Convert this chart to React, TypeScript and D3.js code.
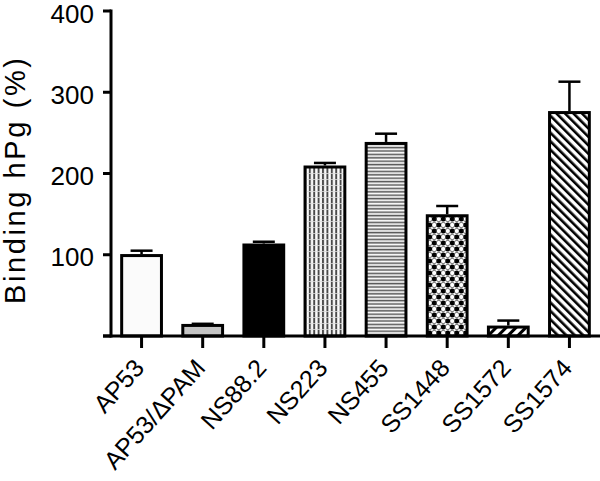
import React from "react";
import * as d3 from "d3";

const categories = ["AP53", "AP53/ΔPAM", "NS88.2", "NS223", "NS455", "SS1448", "SS1572", "SS1574"];
const values = [99, 13, 112, 208, 237, 148, 11, 275];
const errors = [6, 2, 4, 5, 12, 12, 8, 38];
const fills = ["#fbfbfb", "#c4c4c4", "#000000", "url(#pVert)", "url(#pHoriz)", "url(#pDots)", "url(#pFwd)", "url(#pBack)"];
const yTicks = [100, 200, 300, 400];

const W = 600;
const H = 481;

export default function App() {
  const x = d3.scaleBand<string>().domain(categories).range([111, 600]).paddingInner(0.3).paddingOuter(0.15);
  const y = d3.scaleLinear().domain([0, 400]).range([336, 11]);
  const bw = x.bandwidth();
  const font = "Arial, 'Liberation Sans', Helvetica, sans-serif";
  const y0 = y(0);

  return (
    <svg width={W} height={H} style={{ position: "absolute", left: 0, top: 0, background: "#fff" }} fontFamily={font}>
      <defs>
        <pattern id="pVert" width="4.4" height="6" patternUnits="userSpaceOnUse">
          <rect width="4.4" height="6" fill="#fff" />
          <rect x="0.8" width="2" height="6" fill="#4a4a4a" />
          <rect y="5" width="4.4" height="0.8" fill="#ddd" />
        </pattern>
        <pattern id="pHoriz" width="6" height="3.4" patternUnits="userSpaceOnUse">
          <rect width="6" height="3.4" fill="#fff" />
          <rect y="0.6" width="6" height="1.6" fill="#5a5a5a" />
        </pattern>
        <pattern id="pDots" width="9" height="12" patternUnits="userSpaceOnUse">
          <rect width="9" height="12" fill="#fff" />
          <circle cx="2.25" cy="3" r="2.5" fill="#000" />
          <circle cx="6.75" cy="9" r="2.5" fill="#000" />
          <circle cx="6.75" cy="3" r="2.6" fill="none" stroke="#444" strokeWidth="0.8" />
          <circle cx="2.25" cy="9" r="2.6" fill="none" stroke="#444" strokeWidth="0.8" />
        </pattern>
        <pattern id="pFwd" width="7" height="7" patternUnits="userSpaceOnUse" patternTransform="rotate(45)">
          <rect width="7" height="7" fill="#fff" />
          <rect x="0" width="3" height="7" fill="#000" />
        </pattern>
        <pattern id="pBack" width="6" height="6" patternUnits="userSpaceOnUse" patternTransform="rotate(-45)">
          <rect width="6" height="6" fill="#fff" />
          <rect x="0" width="2.6" height="6" fill="#000" />
        </pattern>
      </defs>

      {/* bars */}
      {categories.map((c, i) => {
        const bx = x(c)!;
        const top = y(values[i]);
        return (
          <rect key={c} x={bx + 1.5} y={top} width={bw - 3} height={y0 - top} fill={fills[i]} stroke="#000" strokeWidth={3} />
        );
      })}

      {/* error bars */}
      {categories.map((c, i) => {
        const cx = x(c)! + bw / 2;
        const top = y(values[i]);
        const et = y(values[i] + errors[i]);
        return (
          <g key={"e" + c} stroke="#000" strokeWidth={2.5}>
            <line x1={cx} x2={cx} y1={top - 1.5} y2={et} />
            <line x1={cx - 11} x2={cx + 11} y1={et} y2={et} />
          </g>
        );
      })}

      {/* y axis */}
      <line x1={111} x2={111} y1={y(400) - 1.5} y2={y0 + 1.5} stroke="#000" strokeWidth={3} />
      {[0, ...yTicks].map((t) => (
        <line key={"yt" + t} x1={103} x2={111} y1={y(t)} y2={y(t)} stroke="#000" strokeWidth={3} />
      ))}
      {yTicks.map((t) => (
        <text key={"yl" + t} x={94} y={y(t) + 2.5} textAnchor="end" dominantBaseline="central" fontSize={26} fill="#000">
          {t}
        </text>
      ))}

      {/* x axis */}
      <line x1={103} x2={600} y1={y0} y2={y0} stroke="#000" strokeWidth={3} />
      {categories.map((c) => {
        const cx = x(c)! + bw / 2;
        return <line key={"xt" + c} x1={cx} x2={cx} y1={y0} y2={y0 + 12} stroke="#000" strokeWidth={3} />;
      })}
      {categories.map((c) => {
        const cx = x(c)! + bw / 2;
        return (
          <text
            key={"xl" + c}
            transform={`translate(${cx + 4},${y0 + 33}) rotate(-48)`}
            textAnchor="end"
            fontSize={25}
            fill="#000"
          >
            {c}
          </text>
        );
      })}

      {/* y label */}
      <text
        transform={`translate(25,181) rotate(-90)`}
        textAnchor="middle"
        fontSize={29}
        fill="#000"
        textLength={246}
        lengthAdjust="spacing"
      >
        Binding hPg (%)
      </text>
    </svg>
  );
}
